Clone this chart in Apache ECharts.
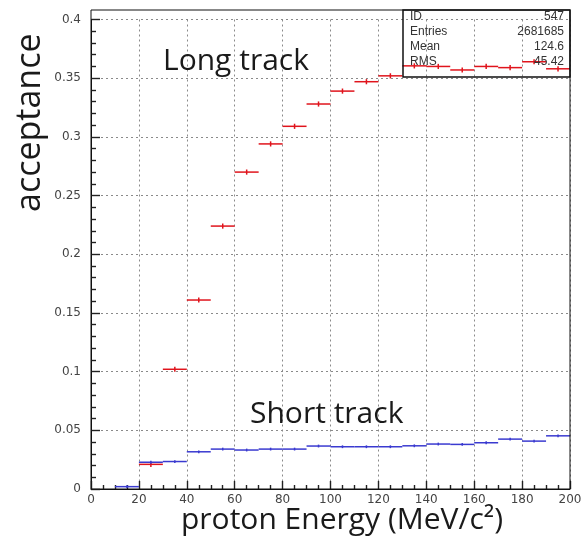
<!DOCTYPE html>
<html>
<head>
<meta charset="utf-8">
<script src="https://cdn.jsdelivr.net/npm/echarts@6/dist/echarts.min.js"></script>
<style>
html,body{margin:0;padding:0;background:#fff;}
#chart{width:585px;height:550px;}
</style>
</head>
<body>
<div id="chart"></div>
<script>
// Bin lower edges (MeV/c^2), bin width 10
var binLow = [0,10,20,30,40,50,60,70,80,90,100,110,120,130,140,150,160,170,180,190];
var binWidth = 10;
// Long track acceptance (red)
var longTrack = [null,null,0.021,0.102,0.161,0.224,0.270,0.294,0.309,0.328,0.339,0.347,0.352,0.3605,0.360,0.357,0.360,0.359,0.364,0.358];
var longErr = 0.0022;
// Short track acceptance (blue)
var shortTrack = [null,0.002,0.0228,0.0234,0.0317,0.034,0.0332,0.034,0.034,0.0366,0.036,0.036,0.036,0.0368,0.0383,0.038,0.0394,0.0425,0.0408,0.0453];
var shortErr = 0.0012;
// Axis ticks
var xTicks = [0,20,40,60,80,100,120,140,160,180,200];
var yTicks = [0,0.05,0.1,0.15,0.2,0.25,0.3,0.35,0.4];
// Stats box
var statNames = ['ID','Entries','Mean','RMS'];
var statValues = ['547','2681685','124.6','45.42'];

function buildData(vals, err){
  var out = [];
  for (var i = 0; i < binLow.length; i++) {
    if (vals[i] == null) continue;
    out.push([binLow[i], binLow[i] + binWidth, vals[i], err]);
  }
  return out;
}

function errRender(color){
  return function(params, api){
    var x0 = api.value(0), x1 = api.value(1), y = api.value(2), e = api.value(3);
    var pL = api.coord([x0, y]);
    var pR = api.coord([x1, y]);
    var pT = api.coord([(x0 + x1) / 2, y + e]);
    var pB = api.coord([(x0 + x1) / 2, y - e]);
    var st = {stroke: color, lineWidth: 1.5};
    return {
      type: 'group',
      children: [
        {type: 'line', shape: {x1: pL[0], y1: pL[1], x2: pR[0], y2: pR[1]}, style: st},
        {type: 'line', shape: {x1: pT[0], y1: pT[1], x2: pB[0], y2: pB[1]}, style: st}
      ]
    };
  };
}

var chart = echarts.init(document.getElementById('chart'), null, {renderer: 'canvas'});
var labelFont = 'DejaVu Sans';
var gridStyle = {type: [2, 3], color: '#8a8a8a', width: 1};
var tickStyle = {color: '#222', width: 1.4};

var statGraphics = [];
var rowY = [18, 33, 48, 63];
for (var i = 0; i < statNames.length; i++) {
  statGraphics.push({type: 'text', left: 410, top: rowY[i] - 7, z: 100,
    style: {text: statNames[i], font: '12px "Liberation Sans"', fill: '#333'}});
  statGraphics.push({type: 'text', right: 585 - 564, top: rowY[i] - 7, z: 100,
    style: {text: statValues[i], font: '12px "Liberation Sans"', fill: '#333', align: 'right'}});
}

var option = {
  backgroundColor: '#fff',
  animation: false,
  grid: {left: 91, right: 15, top: 19.5, bottom: 61, show: false},
  xAxis: [
    {type: 'value', min: xTicks[0], max: xTicks[xTicks.length - 1], interval: 20, position: 'bottom',
     axisLine: {show: true, onZero: false, lineStyle: {color: '#111', width: 1}},
     axisTick: {show: true, inside: true, length: 8, lineStyle: tickStyle},
     minorTick: {show: true, splitNumber: 4, length: 4, lineStyle: tickStyle},
     axisLabel: {color: '#444', fontFamily: labelFont, fontSize: 12, margin: 5},
     splitLine: {show: true, lineStyle: gridStyle}}
  ],
  yAxis: [
    {type: 'value', min: yTicks[0], max: yTicks[yTicks.length - 1], interval: 0.05, position: 'left',
     axisLine: {show: true, onZero: false, lineStyle: {color: '#111', width: 1}},
     axisTick: {show: true, inside: true, length: 9, lineStyle: tickStyle},
     minorTick: {show: true, splitNumber: 5, length: 5, lineStyle: tickStyle},
     axisLabel: {color: '#444', fontFamily: labelFont, fontSize: 12, margin: 10},
     splitLine: {show: true, lineStyle: gridStyle}}
  ],
  series: [
    {type: 'custom', name: 'Long track', renderItem: errRender('#e0141c'),
     encode: {x: [0, 1], y: 2}, data: buildData(longTrack, longErr), z: 5, clip: false},
    {type: 'custom', name: 'Short track', renderItem: errRender('#3a3ad0'),
     encode: {x: [0, 1], y: 2}, data: buildData(shortTrack, shortErr), z: 5, clip: false}
  ],
  graphic: [
    {type: 'rect', shape: {x: 91, y: 10, width: 479, height: 479}, z: 98,
     style: {fill: 'none', stroke: '#111', lineWidth: 1}},
    {type: 'rect', shape: {x: 403, y: 10, width: 167, height: 67}, z: 99,
     style: {fill: 'none', stroke: '#111', lineWidth: 1.5}},
    {type: 'text', left: 163, top: 46, z: 100,
     style: {text: 'Long track', font: '30px "Open Sans"', fill: '#1a1a1a'}},
    {type: 'text', left: 250, top: 399, z: 100,
     style: {text: 'Short track', font: '30px "Open Sans"', fill: '#1a1a1a'}},
    {type: 'text', left: 181, top: 505, z: 100,
     style: {text: 'proton Energy (MeV/c\u00B2)', font: '30px "Open Sans"', fill: '#1a1a1a'}},
    {type: 'text', x: 13, y: 212, rotation: Math.PI / 2, z: 100,
     style: {text: 'acceptance', font: '34px "Open Sans"', fill: '#1a1a1a', align: 'left', verticalAlign: 'top'}}
  ].concat(statGraphics)
};
chart.setOption(option);
</script>
</body>
</html>
